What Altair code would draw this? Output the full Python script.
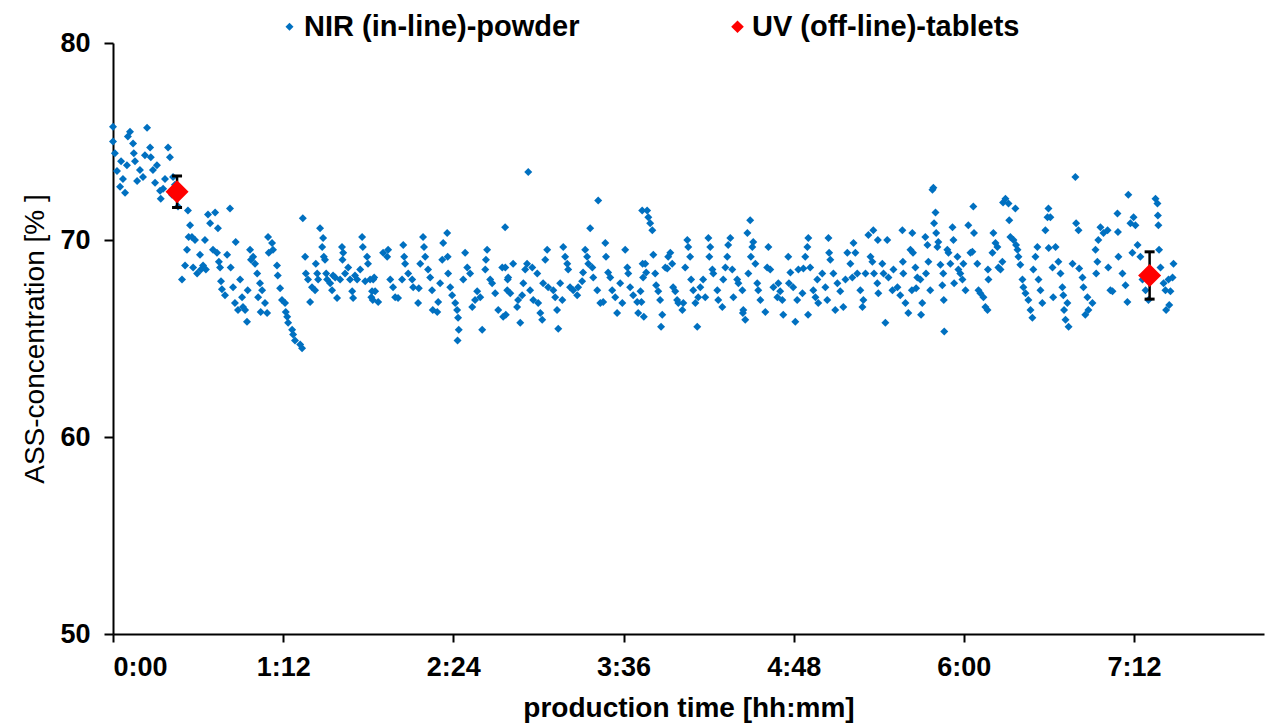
import altair as alt
import pandas as pd

# NIR (in-line) powder measurements: (production time in minutes, ASS concentration %)
nir_seg1 = [(0.0,75.75),(0.0,75.0),(0.8,74.4),(1.7,73.5),(3.0,72.7),(3.4,74.0),(4.2,73.1),(5.1,72.4),(5.9,73.8),(6.3,75.25),(7.2,75.5),(8.5,74.9),(8.8,74.4),(9.3,74.0),(10.2,73.0),(11.4,73.55),(12.7,73.2),(13.5,74.3),(14.4,75.7),(15.7,74.7),(16.0,74.2),(16.9,73.55),(17.8,72.9),(18.6,73.8),(19.9,72.5),(20.2,72.1),(21.2,72.6),(22.0,73.1),(23.3,74.7),(24.1,74.2),(25.0,72.3),(25.4,73.2),(26.2,72.8),(27.5,71.7),(29.2,68.0),(30.5,68.7),(31.3,69.5),(31.7,71.5),(32.0,70.15),(32.6,70.75),(33.4,70.15),(33.9,68.6),(34.7,70.0),(35.6,68.3),(36.8,69.25),(37.2,68.5),(38.1,68.7),(38.9,70.0),(39.3,68.5),(40.2,71.3),(41.1,70.85),(42.3,69.5),(43.2,71.4),(44.0,69.35),(44.4,70.6),(44.8,68.9),(45.3,68.6),(45.7,67.9),(46.1,67.5),(47.4,67.2),(48.3,69.25),(49.5,71.6),(49.8,68.6),(50.8,67.6),(51.6,66.8),(51.9,69.9),(52.9,66.45)]
nir_seg2 = [(53.8,68.0),(54.6,67.1),(55.0,66.6),(55.9,66.45),(56.7,65.85),(57.0,67.45),(58.0,69.5),(58.4,69.0),(59.3,69.15),(60.1,68.8),(61.0,68.3),(61.4,67.1),(62.2,67.8),(62.5,66.35),(63.1,67.45),(64.3,66.8),(65.2,66.3),(65.6,70.15),(65.9,69.35),(67.3,69.85),(67.7,69.5),(69.4,68.7),(69.7,68.2),(70.7,67.55),(71.5,66.95),(72.8,66.8),(73.1,66.35),(73.7,66.1),(74.1,65.8),(75.8,65.45),(76.2,65.2),(77.0,64.9),(79.2,64.7),(80.0,64.5),(80.3,71.1),(81.3,69.15),(81.6,68.3),(82.5,68.0),(83.4,66.85),(84.2,67.6),(85.5,67.45),(85.8,68.8),(86.4,68.3),(86.8,68.0),(87.6,70.6),(88.5,69.65),(88.9,70.1),(89.2,69.15),(89.7,69.0),(90.2,68.3),(90.6,68.0),(91.9,67.8),(92.7,67.45),(93.1,68.2),(94.0,68.1),(94.8,67.05),(96.1,68.0),(96.9,69.65),(97.1,69.0),(97.4,69.35),(98.2,68.3),(99.5,68.6),(100.3,68.0),(101.2,67.4),(101.6,67.05),(102.4,68.2),(103.3,68.0),(104.6,68.5),(105.4,70.15),(105.7,69.65),(106.7,67.9),(107.5,69.15),(107.9,68.8),(108.8,68.0),(109.6,67.4),(109.9,66.95)]
nir_seg3 = [(110.1,68.0),(110.5,68.1),(110.9,67.4),(112.2,66.85),(109.3,67.1),(114.3,69.35),(116.0,69.15),(116.4,69.5),(117.3,68.0),(118.5,67.6),(119.4,67.1),(120.6,67.05),(122.3,68.0),(122.8,69.75),(123.2,69.15),(123.6,68.8),(124.9,68.3),(126.6,68.0),(127.0,67.6),(129.1,66.8),(129.4,67.55),(130.0,68.8),(131.2,70.15),(131.6,69.65),(132.1,69.15),(133.3,68.5),(134.2,68.1),(135.0,67.45),(135.3,66.45),(137.2,66.35),(137.6,66.85),(138.4,67.8),(139.3,69.0),(139.7,69.85),(141.4,70.35),(141.6,69.15),(141.8,68.3),(142.7,67.6),(143.5,67.2),(144.8,66.8),(145.6,66.45),(146.0,66.05),(146.3,65.45),(145.8,64.9),(148.2,68.0),(149.0,69.35),(149.9,68.6),(151.1,68.3),(152.0,66.6),(153.2,66.95),(154.1,67.4),(155.4,67.1),(156.2,65.45),(157.5,68.5),(157.8,69.0),(158.3,69.5),(159.6,68.0),(160.4,67.8),(161.7,67.3),(163.0,66.45),(164.7,68.6),(165.1,66.1),(165.9,70.65),(166.2,66.2),(166.8,67.45),(167.0,68.0)]
nir_seg4 = [(166.0,68.6),(167.2,68.1),(168.1,67.3),(169.3,68.8),(171.0,66.6),(171.4,66.95),(172.3,65.8),(173.1,67.2),(173.6,67.8),(174.4,68.5),(175.2,68.8),(175.7,73.45),(176.5,67.45),(177.4,68.6),(177.8,66.95),(179.5,68.3),(179.9,66.8),(180.8,66.3),(181.6,65.95),(182.0,67.8),(182.9,69.0),(183.7,69.5),(184.1,67.6),(186.3,67.45),(187.1,67.1),(187.9,66.45),(188.4,65.5),(189.2,67.8),(190.1,66.95),(190.5,69.65),(191.3,69.15),(192.2,68.8),(192.6,68.5),(193.4,67.6),(194.7,67.45),(196.4,67.2),(196.8,67.6),(198.5,67.9),(198.9,68.35),(199.8,69.5),(200.6,69.15),(201.1,68.8),(201.9,70.6),(202.8,68.6),(203.2,68.1),(204.9,67.45),(205.3,72.0),(206.2,66.8),(207.4,66.85),(208.3,69.85),(208.6,69.15),(209.5,68.35),(210.4,68.1),(211.2,67.45),(212.5,67.1),(213.3,66.3),(214.6,67.8),(215.5,66.8),(216.7,69.5),(217.6,68.6),(218.0,68.3),(218.8,67.6),(220.1,67.2),(221.8,66.85),(222.2,66.3),(223.9,71.5),(224.1,68.8),(224.3,68.1)]
nir_seg5 = [(223.2,67.4),(223.6,66.85),(224.6,66.1),(225.2,68.8),(225.6,68.35),(226.0,71.5),(226.5,71.15),(227.3,70.85),(228.2,70.5),(228.6,69.25),(229.4,68.3),(229.8,67.7),(230.7,67.4),(231.5,66.95),(231.9,65.6),(232.4,66.2),(233.7,68.6),(234.5,68.55),(234.9,69.15),(235.8,69.35),(236.6,68.8),(237.0,67.6),(237.9,67.4),(238.7,66.95),(239.2,66.8),(240.9,66.45),(241.3,66.8),(242.1,68.6),(243.0,70.0),(243.4,69.65),(244.2,69.15),(244.6,68.0),(245.5,67.45),(246.4,66.8),(247.2,65.6),(247.6,67.1),(248.5,67.6),(249.7,68.0),(250.6,67.1),(251.9,70.1),(252.3,69.15),(252.7,69.65),(253.6,68.5),(254.0,68.3),(255.7,67.45),(256.1,66.95),(257.8,66.6),(258.2,68.0),(259.1,68.6),(259.9,69.15),(260.3,69.75),(261.2,70.1),(262.0,68.5),(262.5,67.1),(264.1,68.0),(264.6,67.8),(266.3,67.45),(266.5,66.3),(266.7,66.45),(267.5,65.95),(268.4,70.35),(268.8,68.3),(269.6,71.0),(269.9,69.15),(270.5,69.65),(270.9,69.9),(271.8,68.8),(272.6,67.8),(273.0,67.45),(273.9,66.95),(276.0,66.35),(276.8,68.6),(277.3,69.65),(278.1,68.5),(279.4,67.6),(281.1,67.1),(281.5,67.8)]
nir_seg6 = [(282.3,67.4),(283.2,66.95),(283.6,66.2),(285.7,69.15),(286.0,67.8),(286.6,68.35),(287.8,67.6),(288.7,65.85),(289.5,66.95),(290.0,68.5),(291.7,67.3),(292.1,68.55),(292.9,69.15),(293.8,69.65),(294.1,66.2),(294.2,70.1),(295.0,68.6),(296.3,67.45),(297.2,67.1),(298.0,68.0),(298.4,66.8),(300.1,68.3),(301.4,67.6),(302.2,66.95),(302.7,70.1),(303.0,69.35),(303.5,69.0),(304.8,68.3),(305.6,66.45),(306.5,67.8),(307.7,67.4),(309.0,66.6),(309.9,68.0),(310.7,69.35),(312.0,68.8),(312.8,68.1),(313.3,69.85),(314.1,69.35),(314.9,68.3),(316.2,67.45),(317.1,66.6),(317.5,66.95),(318.4,68.3),(319.6,70.25),(320.5,69.15),(321.3,68.9),(321.7,70.5),(322.0,68.3),(323.4,67.8),(323.6,70.0),(323.8,67.3),(325.5,68.8),(326.0,68.3),(326.8,65.8),(327.6,70.0),(328.1,68.1),(329.8,67.45),(330.2,68.5),(331.9,67.6),(333.1,67.2),(334.0,70.5),(334.2,68.9),(334.4,68.3),(335.3,66.8),(336.5,66.3),(337.4,69.5),(338.2,70.35),(338.0,67.45)]
nir_seg7 = [(338.5,69.35),(339.5,68.6),(339.8,67.55),(340.3,68.1),(341.6,68.0),(341.9,66.2),(342.4,66.8),(343.7,70.15),(344.0,68.3),(344.6,69.75),(345.0,68.9),(345.8,67.45),(346.7,72.55),(347.1,72.65),(347.4,70.85),(348.0,71.4),(348.3,70.35),(348.8,69.65),(349.2,69.9),(350.1,68.75),(350.9,67.7),(351.3,68.3),(351.5,66.95),(351.7,65.35),(353.0,69.5),(353.5,69.35),(354.3,68.8),(355.2,70.65),(355.6,70.0),(355.9,67.8),(357.3,69.15),(357.7,68.5),(358.5,68.3),(359.4,68.0),(359.8,68.8),(360.7,67.45),(361.9,70.75),(362.8,69.35),(363.6,69.4),(364.0,71.7),(364.3,70.35),(365.7,68.8),(366.2,67.45),(367.0,67.3),(368.3,67.1),(369.1,66.6),(370.0,66.45),(370.2,68.5),(370.4,68.0),(372.1,69.35),(372.5,70.35),(373.4,69.85),(374.2,69.65),(374.6,68.6),(375.5,68.5),(376.3,68.9),(376.6,71.9),(377.6,72.1),(378.9,71.85),(379.2,71.0),(379.7,70.15),(381.0,70.0),(381.8,71.6),(382.1,69.75),(382.7,69.5),(383.1,69.15),(383.9,68.75),(384.8,68.0),(385.2,67.6),(386.1,67.3),(387.3,66.95),(388.2,66.45),(389.0,66.05),(389.4,68.5),(390.3,69.15),(391.1,69.65),(391.6,68.0),(392.4,67.45),(393.2,66.8),(394.5,70.5),(395.4,71.15),(395.8,71.6)]
nir_seg8 = [(396.6,71.15),(395.9,69.6),(398.8,69.65),(397.5,68.6),(400.0,68.9),(400.9,68.3),(397.8,67.1),(401.7,67.6),(402.1,67.2),(402.4,66.45),(403.8,66.8),(403.0,65.95),(404.3,65.6),(407.2,73.2),(407.5,70.85),(408.5,70.5),(406.0,68.8),(408.8,68.55),(410.2,68.1),(410.6,67.6),(412.3,67.1),(412.7,66.45),(411.4,66.2),(414.4,66.8),(415.7,69.5),(416.5,68.9),(416.0,68.3),(416.9,70.0),(417.8,70.65),(419.1,70.35),(420.8,70.5),(421.1,68.6),(422.0,67.45),(422.9,67.4),(425.0,71.35),(425.2,70.4),(425.4,69.15),(427.1,68.3),(428.4,67.7),(429.2,66.85),(429.6,72.3),(430.5,70.85),(431.8,71.15),(432.6,70.75),(431.3,69.35),(433.5,69.75),(434.7,69.15),(435.6,68.0),(436.9,67.45),(438.1,66.95),(441.1,72.1),(441.9,71.85),(442.1,71.25),(442.3,70.75),(442.6,69.5),(443.2,68.6),(444.5,67.8),(445.3,67.45),(446.6,68.0),(447.4,67.4),(445.6,66.45),(446.9,66.7),(448.7,68.8),(448.3,68.1)]

# UV (off-line) tablet measurements
uv_minutes = [27.1, 438.6]
uv_conc = [72.45, 68.2]
uv_err = [0.8, 1.2]

NIR = "NIR (in-line)-powder"
UV = "UV (off-line)-tablets"
x_ticks = [0, 72, 144, 216, 288, 360, 432]
y_ticks = [50, 60, 70, 80]

rows = nir_seg1 + nir_seg2 + nir_seg3 + nir_seg4 + nir_seg5 + nir_seg6 + nir_seg7 + nir_seg8
nir = pd.DataFrame(rows, columns=["minutes", "conc"])
nir["series"] = NIR

uv = pd.DataFrame({
    "minutes": uv_minutes,
    "conc": uv_conc,
    "lo": [c - e for c, e in zip(uv_conc, uv_err)],
    "hi": [c + e for c, e in zip(uv_conc, uv_err)],
    "series": UV,
})

FONT = "Liberation Sans"

x_enc = alt.X(
    "minutes:Q",
    scale=alt.Scale(domain=[0, 487], nice=False, zero=False),
    axis=alt.Axis(
        values=x_ticks,
        labelExpr="floor(datum.value/60) + ':' + (datum.value % 60 < 10 ? '0' : '') + (datum.value % 60)",
        title="production time [hh:mm]",
        titleFontWeight="bold",
        titlePadding=14,
        labelPadding=12,
        tickSize=8,
    ),
)
y_enc = alt.Y(
    "conc:Q",
    scale=alt.Scale(domain=[50, 80], nice=False, zero=False),
    axis=alt.Axis(
        values=y_ticks,
        title="ASS-concentration [% ]",
        titleFontWeight="normal",
        titlePadding=10,
        labelPadding=14,
        tickSize=9,
    ),
)

color_scale = alt.Scale(domain=[NIR, UV], range=["#0070C0", "#FF0000"])
size_scale = alt.Scale(domain=[NIR, UV], range=[64, 160])
legend = alt.Legend(
    orient="none",
    legendX=162,
    legendY=-31,
    direction="horizontal",
    title=None,
    labelFont=FONT,
    labelFontSize=29,
    labelFontWeight="bold",
    labelColor="black",
    labelLimit=600,
    labelOffset=0,
    columnPadding=143,
    symbolType="diamond",
    padding=0,
)

pts = alt.Chart(nir).mark_point(shape="diamond", filled=True, opacity=1).encode(
    x=x_enc, y=y_enc,
    color=alt.Color("series:N", scale=color_scale, legend=legend),
    size=alt.Size("series:N", scale=size_scale, legend=legend),
)

bars = alt.Chart(uv).mark_rule(color="black", strokeWidth=2.5).encode(
    x="minutes:Q", y="lo:Q", y2="hi:Q"
)
cap_lo = alt.Chart(uv).mark_tick(color="black", orient="horizontal", size=10, thickness=3, opacity=1).encode(
    x="minutes:Q", y="lo:Q"
)
cap_hi = alt.Chart(uv).mark_tick(color="black", orient="horizontal", size=10, thickness=3, opacity=1).encode(
    x="minutes:Q", y="hi:Q"
)
uv_pts = alt.Chart(uv).mark_point(shape="diamond", filled=True, size=530, opacity=1).encode(
    x="minutes:Q", y="conc:Q",
    color=alt.Color("series:N", scale=color_scale, legend=legend),
)

chart = alt.layer(pts, bars, cap_lo, cap_hi, uv_pts).properties(
    width=1151,
    height=591,
    padding={"left": 113, "top": 43, "right": 2, "bottom": 90},
    autosize=alt.AutoSizeParams(type="none"),
).configure_view(strokeWidth=0).configure_axis(
    grid=False,
    domainColor="black",
    domainWidth=2,
    tickColor="black",
    tickWidth=2,
    labelFont=FONT,
    labelFontSize=27,
    labelFontWeight="bold",
    labelColor="black",
    titleFont=FONT,
    titleFontSize=28,
    titleColor="black",
)

chart.save("out.html", embed_options={"renderer": "svg", "actions": False})
